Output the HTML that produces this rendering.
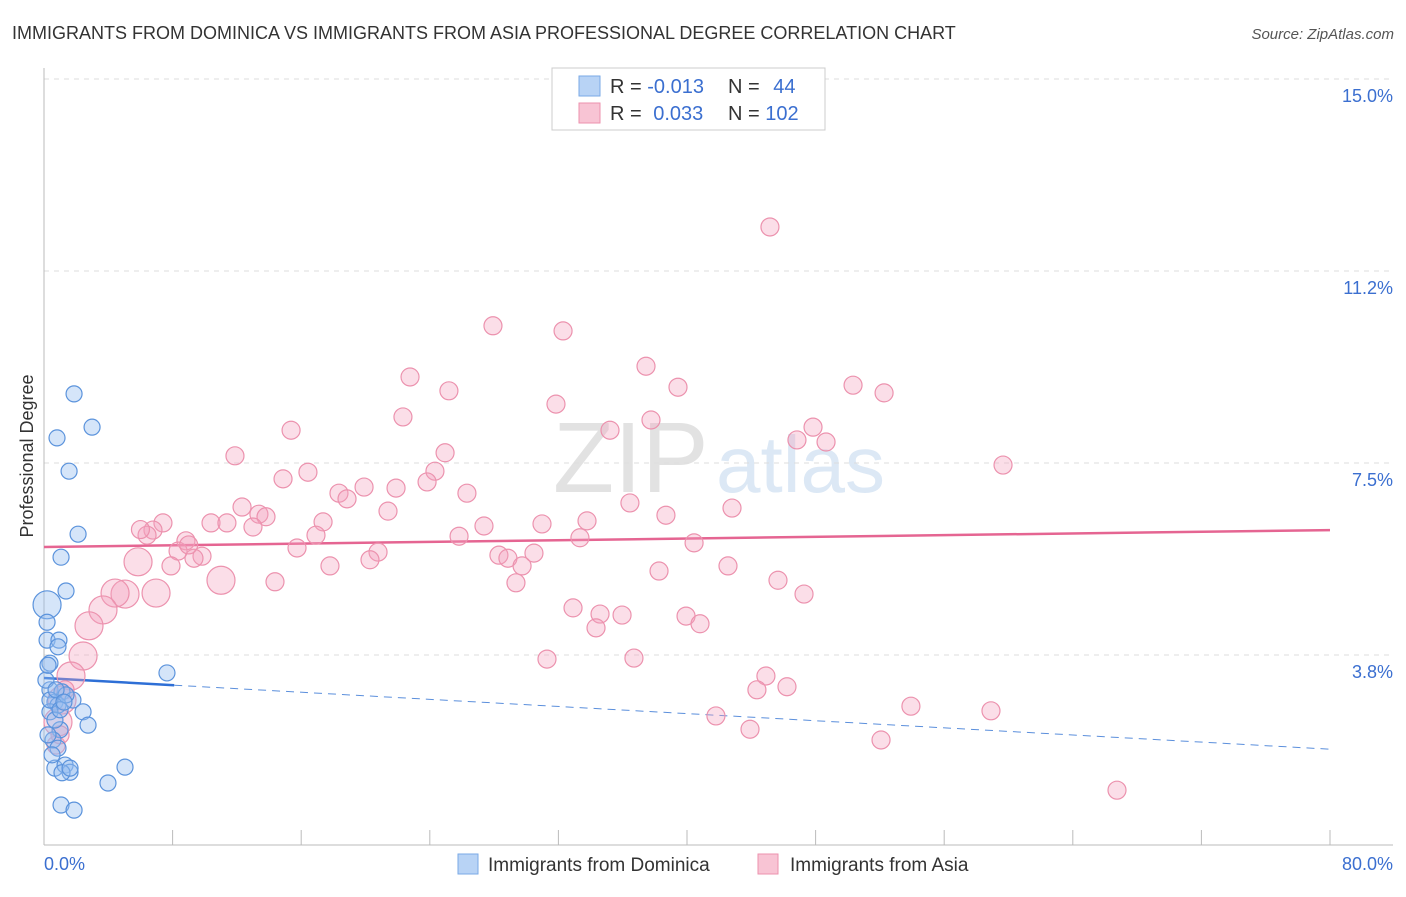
<!DOCTYPE html>
<html><head><meta charset="utf-8">
<style>
body{margin:0;background:#fff;font-family:"Liberation Sans",sans-serif;}
svg text{font-family:"Liberation Sans",sans-serif;}
</style></head>
<body>
<svg id="chart" width="1406" height="892" xmlns="http://www.w3.org/2000/svg">
<text x="12" y="39" font-size="18" fill="#333">IMMIGRANTS FROM DOMINICA VS IMMIGRANTS FROM ASIA PROFESSIONAL DEGREE CORRELATION CHART</text>
<text x="1394" y="39" font-size="15" fill="#555" font-style="italic" text-anchor="end">Source: ZipAtlas.com</text>
<g>
<text x="553" y="492" font-size="100" fill="#e2e2e2" font-family="Liberation Serif, serif">ZIP</text>
<text x="716" y="492" font-size="80" fill="#dce8f5">atlas</text>
</g>
<g id="grid"></g>
<g id="axes"></g>
<g id="trends"></g>
<g id="points"></g>
<text transform="translate(33,456) rotate(-90)" font-size="18" fill="#333" text-anchor="middle">Professional Degree</text>
<g>
<rect x="552" y="68" width="273" height="62" fill="#fff" stroke="#ccc"/>
<rect x="579" y="76" width="21" height="20" fill="#b8d3f5" stroke="#7aa9e6"/>
<rect x="579" y="103" width="21" height="20" fill="#f8c4d4" stroke="#ec92ae"/>
<text x="610" y="93" font-size="20" fill="#333">R = <tspan fill="#3b6fd0">-0.013</tspan></text>
<text x="728" y="93" font-size="20" fill="#333">N = <tspan fill="#3b6fd0" dx="8">44</tspan></text>
<text x="610" y="120" font-size="20" fill="#333">R = <tspan fill="#3b6fd0" dx="6">0.033</tspan></text>
<text x="728" y="120" font-size="20" fill="#333">N = <tspan fill="#3b6fd0">102</tspan></text>
</g>
<g>
<rect x="458" y="854" width="20" height="20" fill="#b8d3f5" stroke="#7aa9e6"/>
<text x="488" y="871" font-size="19" fill="#333">Immigrants from Dominica</text>
<rect x="758" y="854" width="20" height="20" fill="#f8c4d4" stroke="#ec92ae"/>
<text x="790" y="871" font-size="19" fill="#333">Immigrants from Asia</text>
</g>
</svg>
<script>
const yTicks=[3.75,7.5,11.25,15];
const yTickLabels=["3.8%","7.5%","11.2%","15.0%"];
const xTicks=[0,8,16,24,32,40,48,56,64,72,80];
const blueX=[1.87,2.99,0.81,1.56,2.12,1.06,1.37,0.19,0.19,0.19,0.93,0.87,0.37,7.65,0.37,1.12,1.80,0.68,0.87,0.37,2.43,2.74,1.00,0.56,0.87,0.68,1.31,1.62,1.12,5.04,3.98,1.06,1.87,0.37,0.68,1.37,0.12,0.50,1.62,1.00,0.25,0.25,0.75,1.24];
const blueY=[8.85,8.20,7.99,7.34,6.11,5.66,5.00,4.73,4.39,4.04,4.04,3.91,3.59,3.40,3.07,3.03,2.87,2.83,2.77,2.64,2.64,2.38,2.29,2.09,1.93,1.54,1.60,1.46,1.45,1.56,1.25,0.82,0.72,2.87,2.48,2.97,3.26,1.80,1.54,2.68,2.19,3.55,3.07,2.83];
const blueBig=[7];
const pinkX=[45.16,27.93,32.29,37.45,22.77,39.44,50.33,52.26,25.19,31.85,22.33,37.76,15.37,35.21,47.84,46.84,48.65,11.88,24.95,59.66,16.42,24.32,14.87,23.83,21.90,19.91,18.35,18.85,26.31,36.45,12.32,21.40,38.69,42.80,13.37,13.81,17.36,10.39,11.38,33.78,27.37,30.98,7.40,6.78,6.41,13.00,16.92,25.82,8.83,33.34,40.44,8.34,9.83,9.33,20.78,28.30,28.86,30.48,20.28,15.74,5.85,7.90,17.79,29.74,42.55,38.26,11.01,14.37,29.36,45.66,47.28,5.04,4.42,6.97,3.67,32.91,34.59,35.96,39.94,40.81,34.34,2.80,2.43,31.29,36.70,1.68,44.91,44.35,46.22,53.93,58.91,41.80,43.92,52.07,66.75,1.12,0.87,0.75,1.31,1.00,6.0,9.0];
const pinkY=[12.11,10.18,10.08,9.39,9.18,8.98,9.02,8.87,8.91,8.65,8.40,8.34,8.14,8.14,8.20,7.95,7.91,7.64,7.70,7.46,7.32,7.34,7.19,7.13,7.01,7.03,6.91,6.80,6.91,6.72,6.64,6.56,6.48,6.62,6.50,6.45,6.35,6.33,6.33,6.37,6.27,6.31,6.33,6.19,6.09,6.25,6.09,6.07,5.98,6.04,5.94,5.78,5.68,5.64,5.76,5.70,5.64,5.74,5.61,5.84,5.57,5.49,5.49,5.49,5.49,5.39,5.21,5.18,5.16,5.21,4.94,4.94,4.96,4.96,4.63,4.67,4.55,4.53,4.51,4.36,4.28,4.32,3.73,3.67,3.69,3.34,3.34,3.07,3.13,2.75,2.66,2.56,2.30,2.09,1.11,2.87,2.44,1.99,3.07,2.19,6.2,5.9];
const pinkBig=[60,66,71,72,73,74,81,82,85,95,96];
const pinkTrendX=[0,80], pinkTrendY=[5.86,6.19];
const blueTrendX=[0,8.1,80], blueTrendY=[3.30,3.16,1.91];

const X0=44,X1=1330,Y0=847,PPY=192/3.75;
const sx=v=>X0+v/80*(X1-X0);
const sy=v=>Y0-v*PPY;
const NS="http://www.w3.org/2000/svg";
function mk(parent,tag,attrs){const e=document.createElementNS(NS,tag);for(const k in attrs)e.setAttribute(k,attrs[k]);document.getElementById(parent).appendChild(e);return e;}

yTicks.forEach((t,i)=>{
  const l=mk('grid','line',{x1:X0,x2:1393,y1:sy(t),y2:sy(t),stroke:'#ddd','stroke-dasharray':'5,5'});
  
  
  const tx=mk('axes','text',{x:1393,y:sy(t)+23,'font-size':18,fill:'#3b6fd0','text-anchor':'end'});
  tx.textContent=yTickLabels[i];
  
  
});
const dl=mk('grid','line',{x1:X0,x2:1393,y1:sy(15),y2:sy(15),stroke:'#ddd','stroke-dasharray':'5,5'});


let a=mk('axes','line',{x1:X0,x2:X0,y1:68,y2:845,stroke:'#bbb'});


a=mk('axes','line',{x1:X0,x2:1393,y1:845,y2:845,stroke:'#bbb'});


xTicks.forEach(t=>{
  const l=mk('axes','line',{x1:sx(t),x2:sx(t),y1:830,y2:845,stroke:'#bbb'});
  
  
});
let t1=mk('axes','text',{x:44,y:870,'font-size':18,fill:'#3b6fd0'});t1.textContent="0.0%";


let t2=mk('axes','text',{x:1393,y:870,'font-size':18,fill:'#3b6fd0','text-anchor':'end'});t2.textContent="80.0%";



pinkX.forEach((v,i)=>{
  const c=mk('points','circle',{cx:sx(v),cy:sy(pinkY[i]),r:pinkBig.includes(i)?14:9,fill:'rgba(244,160,188,0.35)',stroke:'#ec92ae','stroke-width':1.2});
  
  
});
blueX.forEach((v,i)=>{
  const c=mk('points','circle',{cx:sx(v),cy:sy(blueY[i]),r:blueBig.includes(i)?14:8,fill:'rgba(150,190,240,0.4)',stroke:'#5b93dc','stroke-width':1.2});
  
  
});
let p=mk('trends','line',{x1:sx(pinkTrendX[0]),y1:sy(pinkTrendY[0]),x2:sx(pinkTrendX[1]),y2:sy(pinkTrendY[1]),stroke:'#e56592','stroke-width':2.5});


let b=mk('trends','line',{x1:sx(blueTrendX[0]),y1:sy(blueTrendY[0]),x2:sx(blueTrendX[1]),y2:sy(blueTrendY[1]),stroke:'#2e6fd6','stroke-width':2.5});


let bd=mk('trends','line',{x1:sx(blueTrendX[1]),y1:sy(blueTrendY[1]),x2:sx(blueTrendX[2]),y2:sy(blueTrendY[2]),stroke:'#5b8fdc','stroke-width':1,'stroke-dasharray':'8,6'});


</script>
</body></html>
